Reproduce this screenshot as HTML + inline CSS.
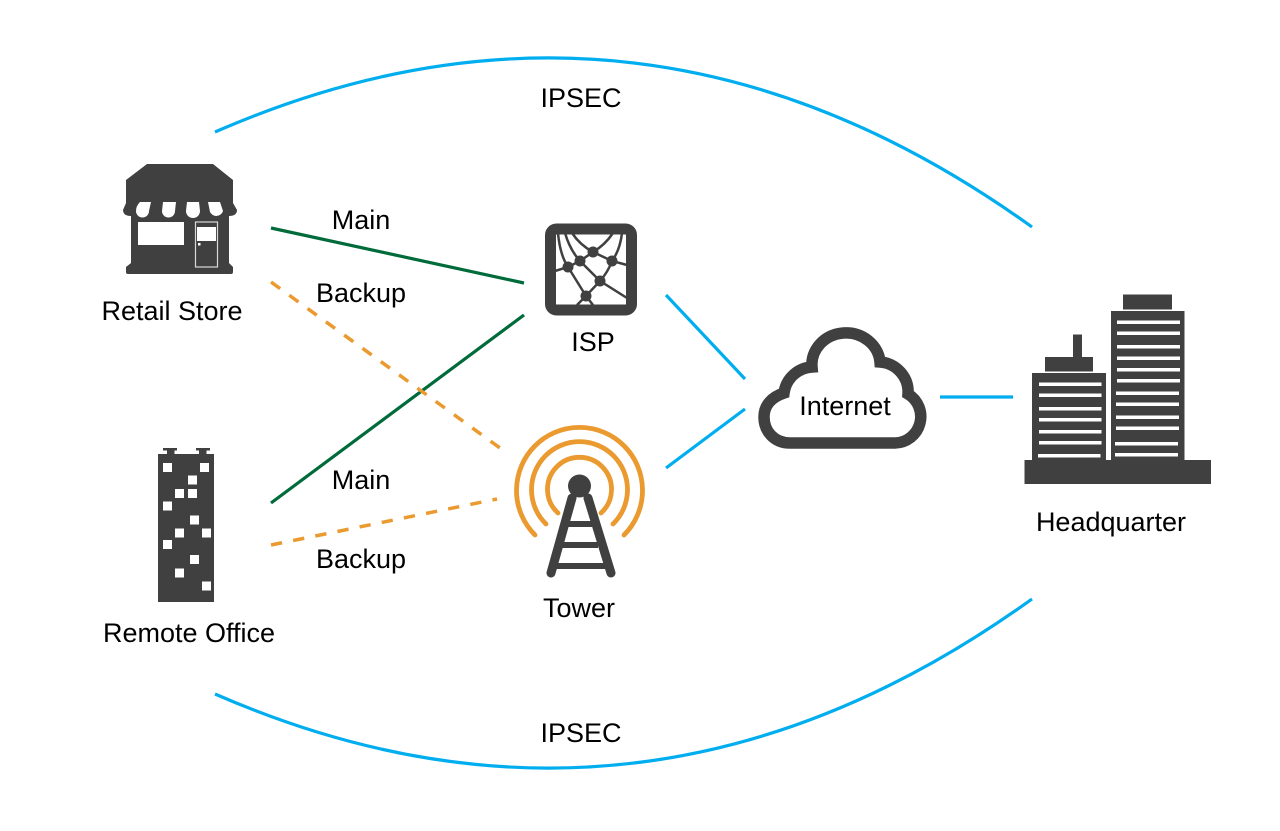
<!DOCTYPE html>
<html><head><meta charset="utf-8"><style>
html,body{margin:0;padding:0;background:#fff}
svg{display:block}
text{font-family:"Liberation Sans",sans-serif;font-size:27px;fill:#000;text-anchor:middle}
</style></head><body>
<svg width="1280" height="831" viewBox="0 0 1280 831" xmlns="http://www.w3.org/2000/svg">
<!-- connectors -->
<g fill="none" stroke-width="3.2">
<path d="M215 132Q641 -54 1032 227" stroke="#00aeef"/>
<path d="M215 694Q641 880 1032 599" stroke="#00aeef"/>
<path d="M666 295L745 379M666 468L745 409M940 397H1013" stroke="#00aeef"/>
<path d="M271 228L524 283M271 503L524 315" stroke="#006b3a"/>
<path d="M271 282L500 448M271 545L497 499" stroke="#ea9a2f" stroke-width="3.500" stroke-dasharray="11.3 11.3"/>
</g>
<!-- store -->
<path fill="#404041" d="M147 164H213L233 180V203L237 210Q237 216 229 216V263L233 267V272Q233 274 231 274H128Q126 274 126 272V267L131 263V216Q123 216 123 210L126 203V180Z"/>
<g fill="#fff">
<path d="M140 202H151L149 211A6.500 6.500 0 0 1 136 211Q136 206 140 202Z"/>
<path d="M163 202H176L175 211A6.500 6.500 0 0 1 162 211Z"/>
<path d="M187 202H199L200 211A6.800 6.800 0 0 1 186 211Z"/>
<path d="M208 202H220L223 211A7 7 0 0 1 210 212Z"/>
<rect x="138" y="222" width="46" height="23"/>
<rect x="197" y="227" width="19" height="14"/>
<rect x="198" y="243" width="2.500" height="2.500"/>
</g>
<rect x="195.500" y="222" width="22" height="45" fill="none" stroke="#d8d8d8" stroke-width="1.200"/>
<!-- ISP -->
<g fill="none" stroke="#404041">
<path stroke-width="2.500" d="M555 271L568 267L580 261L593 252L612 261L627 265M558 233Q560 255 568 267M565 233Q570 250 580 261M572 233Q580 245 593 252M613 233Q605 245 593 252M622 233Q620 250 612 261M580 261L600 281M612 261Q608 272 600 281M568 267L586 296L600 281L627 298M586 296L577 305M586 296L593 305"/>
<rect x="550.500" y="229" width="81" height="81" rx="6" stroke-width="11"/>
</g>
<g fill="#404041">
<circle cx="568" cy="267" r="5.500"/><circle cx="580" cy="261" r="5.500"/><circle cx="593" cy="252" r="5.500"/><circle cx="612" cy="261" r="5.500"/><circle cx="600" cy="281" r="5.500"/><circle cx="586" cy="296" r="5.500"/>
</g>
<!-- tower -->
<g fill="none" stroke="#ea9a2f" stroke-width="4.800" stroke-linecap="round">
<path d="M535 535A63 63 0 1 1 624 535"/>
<path d="M546 524A48 48 0 1 1 613 524"/>
<path d="M558 513A32 32 0 1 1 601 513"/>
</g>
<g fill="none" stroke="#404041" stroke-linecap="round">
<path stroke-width="9" d="M551 573L572 498M611 573L588 498"/>
<path stroke-width="6" d="M568 524H592M562 545H598M556 566H606" stroke-linecap="butt"/>
</g>
<circle cx="579.500" cy="486" r="11.500" fill="#404041"/>
<!-- cloud -->
<path fill="#fff" stroke="#404041" stroke-width="11.500" d="M790 443C774 443 764 431 764 417C764 405 772 397 784 393A30 30 0 0 1 812 367A34 31.500 0 0 1 880 362A30 30 0 0 1 908 394A26.400 26.400 0 0 1 895 443Z"/>
<!-- remote office -->
<g fill="#404041">
<rect x="158" y="454" width="56" height="148"/>
<rect x="163" y="448" width="14" height="2.500"/><rect x="167" y="449" width="7.500" height="6"/>
<rect x="196" y="448" width="14" height="2.500"/><rect x="199" y="449" width="7.500" height="6"/>
</g>
<g fill="#fff">
<rect x="163" y="463" width="9" height="9"/><rect x="200" y="463" width="9" height="9"/>
<rect x="188" y="475.500" width="9" height="9"/>
<rect x="175" y="489" width="9" height="9"/><rect x="188" y="489" width="9" height="9"/>
<rect x="163" y="501.500" width="9" height="9"/>
<rect x="190" y="515.500" width="9" height="9"/>
<rect x="175" y="528.500" width="9" height="9"/><rect x="202" y="528.500" width="9" height="9"/>
<rect x="163" y="540" width="9" height="9"/>
<rect x="190" y="555" width="9" height="9"/>
<rect x="175" y="568.500" width="9" height="9"/><rect x="202" y="581.500" width="9" height="9"/>
</g>
<!-- HQ -->
<g fill="#404041">
<rect x="1111" y="311" width="73.500" height="173"/>
<rect x="1123" y="294.500" width="49" height="15"/>
<rect x="1032" y="373" width="74" height="90"/>
<rect x="1045" y="357" width="48" height="14.500"/>
<rect x="1073" y="334.500" width="9" height="23"/>
<rect x="1024.500" y="460" width="186.500" height="24"/>
</g>
<g fill="#fff">
<rect x="1117" y="320.500" width="63" height="3.500"/><rect x="1117" y="331.500" width="63" height="3.500"/>
<rect x="1117" y="345" width="63" height="3.500"/><rect x="1117" y="356.500" width="63" height="3.500"/>
<rect x="1117" y="368" width="63" height="3.500"/><rect x="1117" y="379" width="63" height="3.500"/>
<rect x="1116" y="391.500" width="63" height="3.500"/><rect x="1116" y="402.500" width="63" height="3.500"/>
<rect x="1116" y="415.500" width="63" height="3.500"/><rect x="1116" y="426.500" width="63" height="3.500"/>
<rect x="1115" y="442" width="63" height="3.500"/><rect x="1115" y="453" width="63" height="3.500"/>
<rect x="1039" y="382.500" width="62.500" height="3.500"/><rect x="1039" y="393.500" width="62.500" height="3.500"/>
<rect x="1039" y="407" width="62.500" height="3.500"/><rect x="1039" y="418" width="62.500" height="3.500"/>
<rect x="1039" y="430" width="62.500" height="3.500"/><rect x="1039" y="441" width="62.500" height="3.500"/>
<rect x="1038" y="454" width="62.500" height="3.500"/>
</g>
<!-- labels -->
<text x="581" y="107">IPSEC</text>
<text x="581" y="742">IPSEC</text>
<text x="361" y="229">Main</text>
<text x="361" y="302">Backup</text>
<text x="361" y="489">Main</text>
<text x="361" y="568">Backup</text>
<text x="172" y="320">Retail Store</text>
<text x="189" y="642">Remote Office</text>
<text x="593" y="351">ISP</text>
<text x="579" y="617">Tower</text>
<text x="845" y="415">Internet</text>
<text x="1111" y="531">Headquarter</text>
</svg>
</body></html>
